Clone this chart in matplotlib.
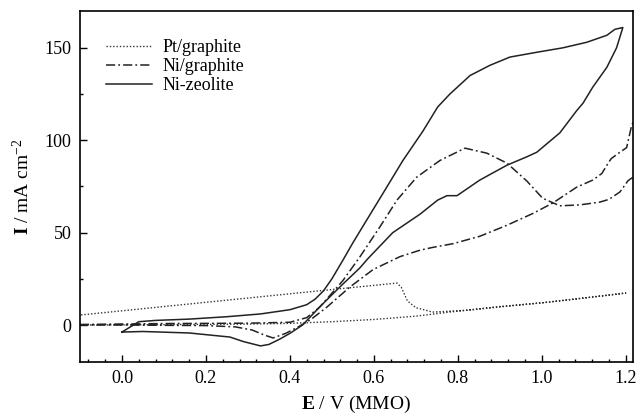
import numpy as np
import matplotlib
matplotlib.use('Agg')
import matplotlib.pyplot as plt
from matplotlib.ticker import MultipleLocator

plt.rcParams['font.family'] = 'Liberation Serif'
plt.rcParams['mathtext.fontset'] = 'custom'
plt.rcParams['mathtext.rm'] = 'Liberation Serif'
plt.rcParams['mathtext.it'] = 'Liberation Serif:italic'
plt.rcParams['mathtext.bf'] = 'Liberation Serif:bold'

# Pt/graphite (dotted) - lower branch, then upper branch back
pt_E = [-0.1, 0.1, 0.3, 0.4, 0.5, 0.6, 0.7, 0.78, 0.9, 1.0, 1.1, 1.2,
        1.1, 1.0, 0.9, 0.82, 0.74, 0.70, 0.68, 0.665, 0.655, 0.5, 0.3, 0.1, -0.1]
pt_I = [0.0, 0.2, 0.5, 0.9, 1.8, 3.0, 4.8, 7.0, 9.8, 12.0, 14.6, 17.3,
        14.6, 12.0, 10.0, 8.0, 7.0, 9.4, 13.0, 20.5, 22.7, 19.2, 14.6, 10.0, 5.4]

# Ni/graphite (dash-dot) - peak branch out, lower branch back
ni_E = [-0.1, 0.1, 0.3, 0.40, 0.44, 0.471, 0.526, 0.567, 0.614, 0.655, 0.702,
        0.757, 0.817, 0.869, 0.917, 0.964, 1.002, 1.043, 1.09, 1.138, 1.16,
        1.186, 1.205, 1.214, 1.23,
        1.23, 1.214, 1.202, 1.186, 1.165, 1.155, 1.143, 1.121, 1.083, 1.026,
        0.979, 0.917, 0.852, 0.788, 0.74, 0.71, 0.662, 0.598, 0.543, 0.488,
        0.45, 0.42, 0.39, 0.36, 0.34, 0.31, 0.27, 0.2, 0.0, -0.1]
ni_I = [0.3, 0.8, 1.0, 1.5, 4.0, 9.7, 24.0, 37.0, 53.0, 67.6, 80.0,
        89.0, 95.7, 93.0, 87.6, 78.0, 68.6, 64.5, 65.0, 66.5, 68.0,
        72.0, 78.0, 79.5, 82.0,
        116.0, 108.0, 96.0, 93.5, 90.0, 86.5, 82.0, 78.4, 74.6, 66.0,
        60.4, 54.0, 48.0, 44.0, 42.0, 40.5, 37.0, 30.0, 20.6, 9.7,
        3.0, -1.0, -4.5, -7.0, -5.5, -2.7, -1.0, -0.3, 0.0, 0.0]

# Ni-zeolite (solid) - forward then reverse
nz_E = [0.0, 0.02, 0.04, 0.08, 0.16, 0.25, 0.33, 0.40, 0.44, 0.46, 0.48, 0.50,
        0.526, 0.55, 0.574, 0.621, 0.669, 0.717, 0.752, 0.781, 0.829, 0.876, 0.924,
        0.988, 1.05, 1.107, 1.155, 1.174, 1.193,
        1.178, 1.155, 1.121, 1.098, 1.083, 1.043, 0.988, 0.964, 0.917, 0.852,
        0.798, 0.774, 0.752, 0.71, 0.645, 0.586, 0.567, 0.519, 0.471, 0.43,
        0.40, 0.376, 0.35, 0.33, 0.29, 0.257, 0.16, 0.05, 0.0]
nz_I = [-3.8, -1.0, 1.8, 2.5, 3.2, 4.5, 6.0, 8.3, 11.0, 14.0, 18.5, 25.0,
        35.0, 44.5, 53.5, 71.0, 89.0, 105.0, 118.0, 125.0, 135.0, 140.5, 145.0,
        147.6, 150.0, 153.0, 156.8, 160.0, 161.0,
        150.0, 139.5, 128.6, 120.0, 116.0, 104.0, 93.5, 91.0, 86.5, 78.4,
        70.0, 70.0, 67.6, 60.0, 50.0, 36.0, 31.0, 20.6, 9.8, 0.0,
        -4.5, -7.6, -10.5, -11.3, -9.0, -6.5, -4.3, -3.5, -3.8]

fig = plt.figure(figsize=(6.37, 4.18), dpi=100)
ax = fig.add_axes([0.1256, 0.134, 0.868, 0.840])

ax.plot(pt_E, pt_I, color='#333333', lw=1.0, linestyle=(0, (1, 1.4)), label='Pt/graphite')
ax.plot(ni_E, ni_I, color='#222222', lw=1.1, linestyle=(0, (6, 2, 1.2, 2)), label='Ni/graphite')
ax.plot(nz_E, nz_I, color='#222222', lw=1.1, label='Ni-zeolite')

ax.set_xlim(-0.1, 1.217)
ax.set_ylim(-20, 170)
ax.xaxis.set_major_locator(MultipleLocator(0.2))
ax.xaxis.set_minor_locator(MultipleLocator(0.04))
ax.yaxis.set_major_locator(MultipleLocator(50))
ax.yaxis.set_minor_locator(MultipleLocator(25))
ax.xaxis.set_major_formatter(matplotlib.ticker.FormatStrFormatter('%.1f'))
ax.yaxis.set_major_formatter(matplotlib.ticker.FormatStrFormatter('%d'))
ax.tick_params(which='both', direction='in', top=False, right=False, labelsize=13, pad=6)
ax.tick_params(which='major', length=5, width=1)
ax.tick_params(which='minor', length=2.5, width=1)
for s in ax.spines.values():
    s.set_linewidth(1.2)

ax.set_xlabel(r'$\mathbf{E}$ / V (MMO)', fontsize=14, labelpad=5)
ax.set_ylabel(r'$\mathbf{I}$ / mA cm$^{-2}$', fontsize=14, labelpad=8)

ax.legend(loc='upper left', bbox_to_anchor=(0.047, 0.919), frameon=False, fontsize=13,
          borderpad=0, borderaxespad=0, labelspacing=0.1, handlelength=2.55,
          handletextpad=0.6)

fig.savefig('out.png', dpi=100)
